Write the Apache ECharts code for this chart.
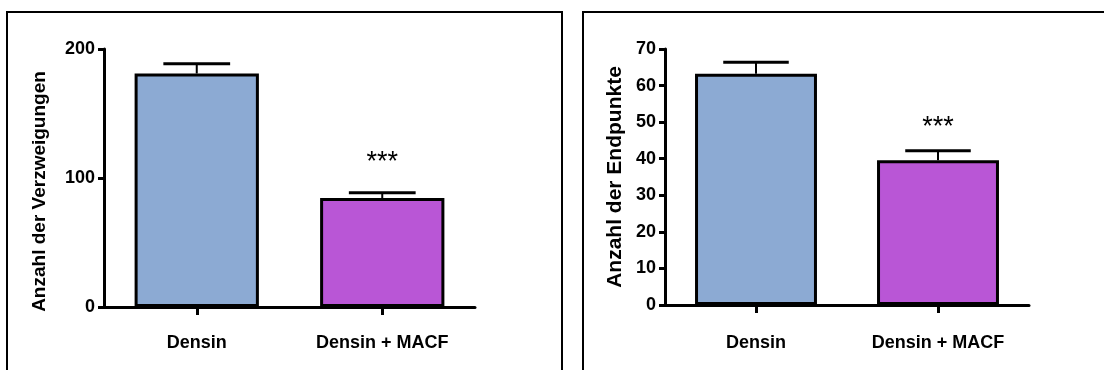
<!DOCTYPE html>
<html><head><meta charset="utf-8">
<script src="https://cdn.jsdelivr.net/npm/echarts@6/dist/echarts.min.js"></script>
<style>html,body{margin:0;padding:0;background:#fff;overflow:hidden}#c{width:1104px;height:370px}</style>
</head><body><div id="c"></div>
<script>
// ---- data ----
const categories = ['Densin', 'Densin + MACF'];
const branchMean = [181, 84.5];
const branchErr = [7.5, 4];
const branchSig = ['', '***'];
const branchSigY = [null, 112];
const branchAxisMax = 200;
const branchAxisStep = 100;
const branchTitle = 'Anzahl der Verzweigungen';

const endMean = [63.2, 39.6];
const endErr = [3.2, 2.6];
const endSig = ['', '***'];
const endSigY = [null, 48.5];
const endAxisMax = 70;
const endAxisStep = 10;
const endTitle = 'Anzahl der Endpunkte';

const barColors = ['#8CAAD3', '#B956D6'];

// ---- chart ----
const FONT = "'Liberation Sans', Arial, Helvetica, sans-serif";
const chart = echarts.init(document.getElementById('c'), null, {renderer: 'canvas'});

function errRender(params, api) {
  const x = api.value(0), m = api.value(1), e = api.value(2);
  const base = api.coord([x, m]);
  const top = api.coord([x, m + e]);
  const w = api.size([1, 0])[0] * 0.36;
  return {type: 'group', children: [
    {type: 'line', shape: {x1: top[0], y1: base[1], x2: top[0], y2: top[1]}, style: {stroke: '#000', lineWidth: 2}},
    {type: 'line', shape: {x1: top[0] - w / 2, y1: top[1], x2: top[0] + w / 2, y2: top[1]}, style: {stroke: '#000', lineWidth: 3}}
  ]};
}
function sigRender(labels) {
  return function (params, api) {
    const i = params.dataIndex;
    const p = api.coord([api.value(0), api.value(1)]);
    return {type: 'text', x: p[0], y: p[1], style: {text: labels[i], font: 'normal 27px ' + FONT, fill: '#000', align: 'center', verticalAlign: 'middle'}};
  };
}
function makeX(gi, margin) {
  return {type: 'category', gridIndex: gi, data: categories,
    axisLine: {lineStyle: {color: '#000', width: 3}},
    axisTick: {show: true, inside: false, alignWithLabel: true, length: 8, lineStyle: {color: '#000', width: 3}},
    axisLabel: {color: '#000', fontFamily: FONT, fontWeight: 'bold', fontSize: 18, margin: margin},
    splitLine: {show: false}};
}
function makeY(gi, max, step, title, gap, pad, tsize) {
  return {type: 'value', gridIndex: gi, min: 0, max: max, interval: step,
    name: title, nameLocation: 'middle', nameGap: gap, nameRotate: 90,
    nameTextStyle: {color: '#000', fontFamily: FONT, fontWeight: 'bold', fontSize: tsize, padding: pad},
    axisLine: {show: true, lineStyle: {color: '#000', width: 3}},
    axisTick: {show: true, inside: false, length: 6, lineStyle: {color: '#000', width: 3}},
    axisLabel: {color: '#000', fontFamily: FONT, fontWeight: 'bold', fontSize: 18, margin: 9},
    splitLine: {show: false}};
}
function barData(vals) {
  return vals.map((v, i) => ({value: v, itemStyle: {color: barColors[i]}}));
}
function errData(m, e) { return m.map((v, i) => [i, v, e[i]]); }
function sigData(y) { return y.map((v, i) => [i, v]).filter(d => d[1] != null); }

const option = {
  backgroundColor: '#fff',
  animation: false,
  graphic: [
    {type: 'rect', shape: {x: 7, y: 12, width: 555, height: 400}, style: {fill: 'none', stroke: '#000', lineWidth: 2}, silent: true},
    {type: 'rect', shape: {x: 583, y: 12, width: 600, height: 400}, style: {fill: 'none', stroke: '#000', lineWidth: 2}, silent: true}
  ],
  grid: [
    {left: 104, top: 49, width: 371, height: 258, containLabel: false},
    {left: 665, top: 49, width: 364, height: 256, containLabel: false}
  ],
  xAxis: [makeX(0, 27), makeX(1, 29)],
  yAxis: [makeY(0, branchAxisMax, branchAxisStep, branchTitle, 55, [0, 27, 0, 0], 19),
          makeY(1, endAxisMax, endAxisStep, endTitle, 39, [0, 0, 0, 0], 21)],
  series: [
    {type: 'bar', xAxisIndex: 0, yAxisIndex: 0, data: barData(branchMean), barWidth: '67%',
      itemStyle: {borderColor: '#000', borderWidth: 3}},
    {type: 'custom', xAxisIndex: 0, yAxisIndex: 0, data: errData(branchMean, branchErr), renderItem: errRender, z: 5},
    {type: 'custom', xAxisIndex: 0, yAxisIndex: 0, data: sigData(branchSigY), renderItem: sigRender(branchSig.filter(s => s)), z: 5},
    {type: 'bar', xAxisIndex: 1, yAxisIndex: 1, data: barData(endMean), barWidth: '67%',
      itemStyle: {borderColor: '#000', borderWidth: 3}},
    {type: 'custom', xAxisIndex: 1, yAxisIndex: 1, data: errData(endMean, endErr), renderItem: errRender, z: 5},
    {type: 'custom', xAxisIndex: 1, yAxisIndex: 1, data: sigData(endSigY), renderItem: sigRender(endSig.filter(s => s)), z: 5}
  ]
};
chart.setOption(option);
</script>
</body></html>
